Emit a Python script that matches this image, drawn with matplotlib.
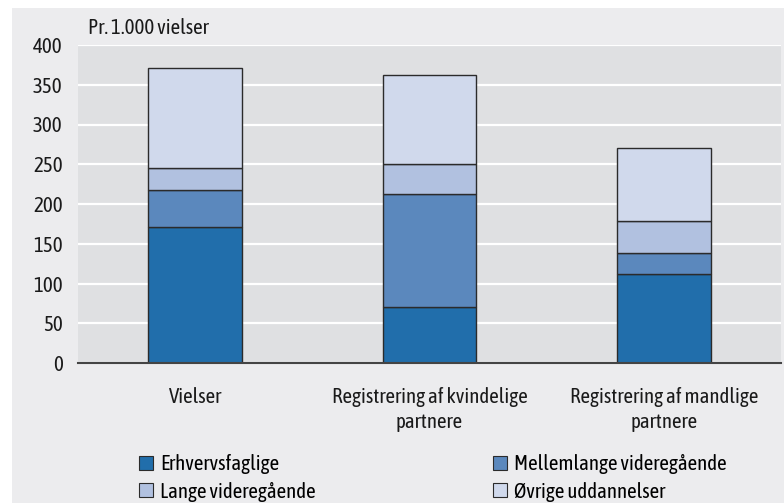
import matplotlib.pyplot as plt
from matplotlib.patches import Rectangle, Patch
import numpy as np

plt.rcParams['font.family'] = ['Asap Condensed', 'DejaVu Sans']

categories = ['Vielser', 'Registrering af kvindelige\npartnere', 'Registrering af mandlige\npartnere']
series_names = ['Erhvervsfaglige', 'Mellemlange videregående', 'Lange videregående', 'Øvrige uddannelser']
erhvervsfaglige = [171, 71, 112]
mellemlange = [46, 141, 26]
lange = [28, 38, 41]
oevrige = [126, 112, 92]
colors = ['#216EAB', '#5B88BD', '#B1C1E0', '#D0D9EC']

fs = 15

fig = plt.figure(figsize=(7.84, 5.03), dpi=100, facecolor='white')
# grå baggrund med hvid kant foroven og til venstre
fig.patches.append(Rectangle((12 / 784, 0), 1, 1 - 8 / 503, transform=fig.transFigure,
                             facecolor='#ECECEE', edgecolor='none', zorder=-10))

ax = fig.add_axes([78 / 784, 140 / 503, 703 / 784, 318 / 503])
ax.set_facecolor('#DFE0E2')

x = np.arange(len(categories))
bottom = np.zeros(len(categories))
handles = []
for vals, name, col in zip([erhvervsfaglige, mellemlange, lange, oevrige], series_names, colors):
    ax.bar(x, vals, width=0.4, bottom=bottom, color=col, edgecolor='#2B2B2B',
           linewidth=1.0, zorder=3)
    bottom += np.array(vals)
    handles.append(Patch(facecolor=col, edgecolor='#2B2B2B', linewidth=0.8, label=name))

ax.set_xlim(-0.5, 2.5)
ax.set_ylim(0, 400)
ax.set_yticks(np.arange(0, 401, 50))
ax.yaxis.grid(True, color='white', linewidth=1.6, zorder=0)
ax.set_axisbelow(True)
ax.tick_params(axis='both', length=0, labelsize=fs, colors='#1A1A1A')
ax.tick_params(axis='y', pad=11)
ax.tick_params(axis='x', pad=17)
ax.set_xticks(x)
ax.set_xticklabels(categories, linespacing=1.35)
for s in ['top', 'left', 'right']:
    ax.spines[s].set_visible(False)
ax.spines['bottom'].set_color('#444444')
ax.spines['bottom'].set_linewidth(1.5)
ax.spines['bottom'].set_zorder(5)

fig.text(88 / 784, 1 - 28 / 503, 'Pr. 1.000 vielser', fontsize=fs, ha='left', va='center',
         color='#1A1A1A')

leg_kw = dict(loc='upper left', frameon=False, fontsize=fs, handlelength=0.65,
              handleheight=0.65, handletextpad=0.35, labelspacing=0.35, borderaxespad=0)
leg1 = fig.legend(handles=[handles[0], handles[2]],
                  bbox_to_anchor=(131 / 784, 1 - 446 / 503), **leg_kw)
leg2 = fig.legend(handles=[handles[1], handles[3]],
                  bbox_to_anchor=(485 / 784, 1 - 446 / 503), **leg_kw)

fig.savefig('out.png', dpi=100, facecolor=fig.get_facecolor())
